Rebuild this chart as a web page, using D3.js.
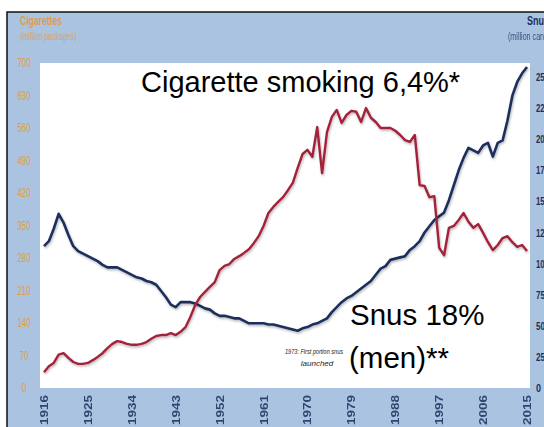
<!DOCTYPE html>
<html>
<head>
<meta charset="utf-8">
<script src="https://cdn.jsdelivr.net/npm/d3@7"></script>
<style>
  body { margin: 0; background: #fff; }
  svg { display: block; font-family: "Liberation Sans", Arial, sans-serif; }
</style>
</head>
<body>
<svg id="chart" width="544" height="427"></svg>
<script>
// values, one per year starting at firstYear
const firstYear = 1916
const cigarettes = [
  34, 47, 54, 72, 75, 65, 56, 52, 52, 54,
  60, 67, 75, 86, 95, 101, 99, 95, 93, 93,
  95, 99, 106, 112, 114, 114, 118, 114, 121, 131,
  153, 179, 196, 207, 218, 228, 254, 263, 267, 278,
  284, 291, 299, 312, 327, 349, 377, 390, 401, 411,
  426, 442, 474, 504, 513, 498, 562, 463, 551, 584,
  599, 571, 588, 597, 595, 573, 603, 582, 573, 560,
  560, 560, 554, 545, 534, 530, 545, 437, 435, 411,
  413, 302, 286, 345, 349, 362, 377, 358, 345, 353,
  334, 314, 297, 308, 323, 327, 314, 304, 308, 295
]
const snus = [
  114, 118, 128, 140, 133, 123, 114, 110, 108, 106,
  104, 102, 99, 97, 97, 97, 95, 93, 91, 89,
  88, 86, 85, 83, 78, 73, 67, 65, 69, 69,
  69, 68, 66, 64, 63, 60, 58, 58, 57, 56,
  56, 54, 52, 52, 52, 52, 51, 51, 50, 49,
  48, 47, 46, 48, 49, 51, 52, 54, 56, 61,
  65, 69, 72, 74, 77, 80, 83, 86, 91, 96,
  98, 103, 104, 105, 106, 111, 114, 118, 125, 130,
  135, 138, 141, 151, 163, 175, 185, 193, 191, 189,
  195, 197, 186, 197, 199, 215, 235, 246, 253, 258
]
const yearTicks = [1916, 1925, 1934, 1943, 1952, 1961, 1970, 1979, 1988, 1997, 2006, 2015]
const cigTicks = [0, 70, 140, 210, 280, 350, 420, 490, 560, 630, 700]
const snusTicks = [0, 25, 50, 75, 100, 125, 150, 175, 200, 225, 250]

const svg = d3.select("#chart")
const red = "#a3213a"
const navy = "#1c2f5c"
const orange = "#e59a48"

const x = d3.scaleLinear().domain([1916, 2015]).range([44, 527])
const yL = d3.scaleLinear().domain([0, 700]).range([388, 63])
const yR = d3.scaleLinear().domain([0, 250]).range([388, 77])

// shadow under the lines
const defs = svg.append("defs")
defs.append("filter").attr("id", "shadow")
    .attr("x", "-5%").attr("y", "-5%").attr("width", "110%").attr("height", "115%")
    .append("feDropShadow")
    .attr("dx", 0.8).attr("dy", 1.5).attr("stdDeviation", 1)
    .attr("flood-color", "#000").attr("flood-opacity", 0.3)

// frame + blue background
svg.append("rect").attr("x", 7).attr("y", 12).attr("width", 560).attr("height", 440)
    .attr("fill", "#a9c3e0").attr("stroke", "#111").attr("stroke-width", 1.5)
svg.append("rect").attr("x", 40).attr("y", 63).attr("width", 490).attr("height", 325)
    .attr("fill", "#fff")

// headers
svg.append("text").attr("x", 20).attr("y", 25).text("Cigarettes")
    .attr("fill", orange).attr("font-size", 12).attr("font-weight", "bold")
    .attr("textLength", 42).attr("lengthAdjust", "spacingAndGlyphs")
svg.append("text").attr("x", 20).attr("y", 40).text("(million packages)")
    .attr("fill", orange).attr("font-size", 10).attr("opacity", 0.8)
    .attr("textLength", 56).attr("lengthAdjust", "spacingAndGlyphs")
svg.append("text").attr("x", 527).attr("y", 25).text("Snus")
    .attr("fill", navy).attr("font-size", 12).attr("font-weight", "bold")
    .attr("textLength", 22).attr("lengthAdjust", "spacingAndGlyphs")
svg.append("text").attr("x", 508).attr("y", 40).text("(million cans)")
    .attr("fill", navy).attr("font-size", 10).attr("opacity", 0.8)
    .attr("textLength", 42).attr("lengthAdjust", "spacingAndGlyphs")

// axes
const leftAxis = svg.append("g").attr("transform", "translate(36,0)")
    .call(d3.axisLeft(yL).tickValues(cigTicks).tickSize(0).tickPadding(0))
leftAxis.select(".domain").remove()
leftAxis.selectAll("text").attr("fill", orange).attr("font-size", 12)
    .attr("text-anchor", "middle").attr("x", -12)
    .attr("textLength", d => d < 100 ? (d === 0 ? 5 : 9) : 13)
    .attr("lengthAdjust", "spacingAndGlyphs")

const rightAxis = svg.append("g").attr("transform", "translate(536,0)")
    .call(d3.axisRight(yR).tickValues(snusTicks).tickSize(0).tickPadding(0))
rightAxis.select(".domain").remove()
rightAxis.selectAll("text").attr("fill", navy).attr("font-size", 11).attr("font-weight", "bold")
    .attr("textLength", d => d < 10 ? 5 : d < 100 ? 9 : 13)
    .attr("lengthAdjust", "spacingAndGlyphs")

const bottomAxis = svg.append("g").attr("transform", "translate(0,395)")
    .call(d3.axisBottom(x).tickValues(yearTicks).tickFormat(d3.format("d")).tickSize(0))
bottomAxis.select(".domain").remove()
bottomAxis.selectAll("text")
    .attr("fill", navy).attr("font-size", 10).attr("font-weight", "bold").attr("opacity", 0.85)
    .attr("text-anchor", "end").attr("dy", "0.35em").attr("y", 0)
    .attr("transform", "rotate(-90)")
    .attr("textLength", 30).attr("lengthAdjust", "spacingAndGlyphs")

// lines
const cigLine = d3.line().x((d, i) => x(firstYear + i)).y(d => yL(d))
const snusLine = d3.line().x((d, i) => x(firstYear + i)).y(d => yR(d))

svg.append("path").datum(snus).attr("d", snusLine)
    .attr("fill", "none").attr("stroke", navy).attr("stroke-width", 2.6)
    .attr("stroke-linejoin", "round").attr("filter", "url(#shadow)")
svg.append("path").datum(cigarettes).attr("d", cigLine)
    .attr("fill", "none").attr("stroke", red).attr("stroke-width", 2.4)
    .attr("stroke-linejoin", "round").attr("filter", "url(#shadow)")

// annotations
svg.append("text").attr("x", 314).attr("y", 354).attr("text-anchor", "middle")
    .attr("font-size", 8).attr("font-style", "italic").attr("fill", "#222")
    .attr("textLength", 58).attr("lengthAdjust", "spacingAndGlyphs")
    .text("1973: First portion snus")
svg.append("text").attr("x", 317).attr("y", 366).attr("text-anchor", "middle")
    .attr("font-size", 8).attr("font-style", "italic").attr("fill", "#222")
    .text("launched")

svg.append("text").attr("x", 141).attr("y", 92).attr("font-size", 29).attr("fill", "#000")
    .text("Cigarette smoking 6,4%*")
svg.append("text").attr("x", 350).attr("y", 325).attr("font-size", 29.5).attr("fill", "#000")
    .text("Snus 18%")
svg.append("text").attr("x", 349).attr("y", 368).attr("font-size", 29.5).attr("fill", "#000")
    .text("(men)**")
</script>
</body>
</html>
